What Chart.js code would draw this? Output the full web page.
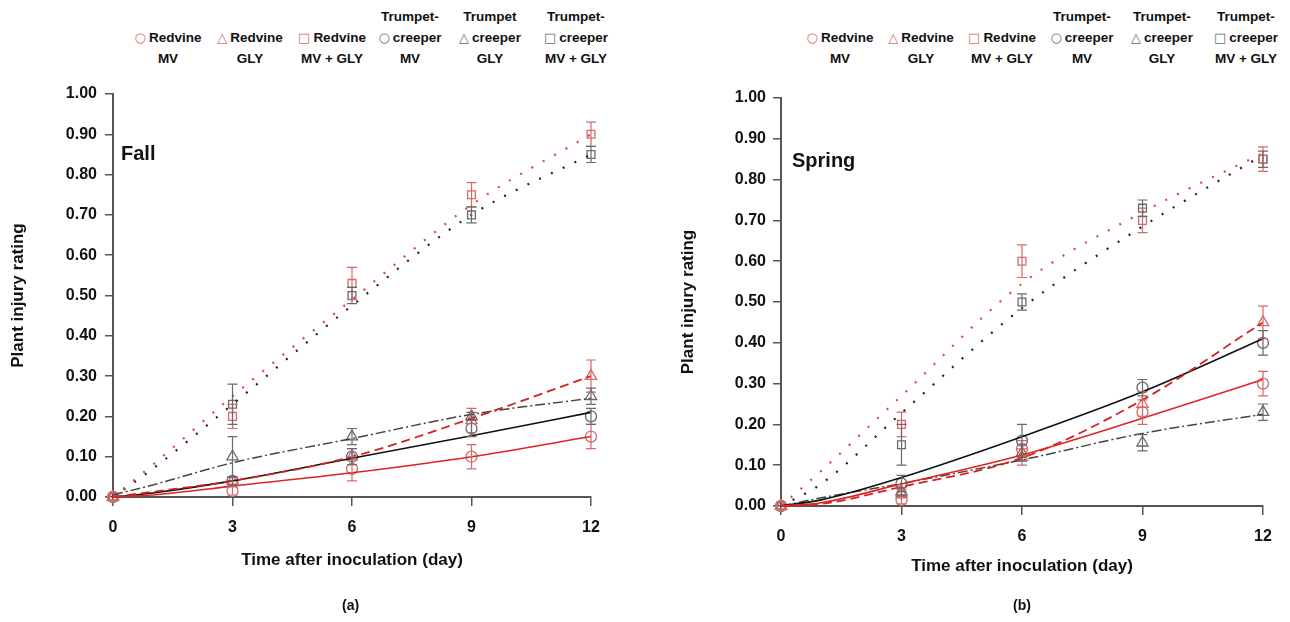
<!DOCTYPE html>
<html>
<head>
<meta charset="utf-8">
<script src="https://cdn.jsdelivr.net/npm/chart.js@4.4.1/dist/chart.umd.min.js"></script>
<style>
  body { margin: 0; background: #fff; font-family: "Liberation Sans", Arial, sans-serif; }
  #wrap { position: relative; width: 1290px; height: 622px; overflow: hidden; }
  canvas { position: absolute; }
  .leg { position: absolute; width: 130px; text-align: center; font-weight: bold; font-size: 13.5px; line-height: 21px; color: #111; }
  .mk { font-family: "DejaVu Sans", sans-serif; font-weight: normal; font-size: 13px; margin-right: 3px; }
  .cap { position: absolute; font-weight: bold; font-size: 14px; color: #111; }
</style>
</head>
<body>
<div id="wrap">
  <canvas id="chartFall" width="650" height="552" style="left:0px;top:70px;width:650px;height:552px"></canvas>
  <canvas id="chartSpring" width="630" height="552" style="left:660px;top:70px;width:630px;height:552px"></canvas>
  <div class="cap" style="left:342px;top:597px">(a)</div>
  <div class="cap" style="left:1013px;top:597px">(b)</div>
</div>
<script>
'use strict'

const days = [0, 3, 6, 9, 12];
const fitDays = [0, 1, 3, 6, 9, 12];
const xTicks = [0, 3, 6, 9, 12];

const fallNames = [['Redvine', 'MV'], ['Redvine', 'GLY'], ['Redvine', 'MV + GLY'],
                   ['Trumpet-', 'creeper', 'MV'], ['Trumpet', 'creeper', 'GLY'], ['Trumpet-', 'creeper', 'MV + GLY']];
const springNames = [['Redvine', 'MV'], ['Redvine', 'GLY'], ['Redvine', 'MV + GLY'],
                     ['Trumpet-', 'creeper', 'MV'], ['Trumpet-', 'creeper', 'GLY'], ['Trumpet-', 'creeper', 'MV + GLY']];

// Fall - observed means and error
const fallRvMv = [0, 0.015, 0.07, 0.10, 0.15];
const fallRvMvErr = [0, 0.01, 0.03, 0.03, 0.03];
const fallRvGly = [0, 0.04, 0.10, 0.19, 0.30];
const fallRvGlyErr = [0, 0.01, 0.02, 0.03, 0.04];
const fallRvMvGly = [0, 0.20, 0.53, 0.75, 0.90];
const fallRvMvGlyErr = [0, 0.03, 0.04, 0.03, 0.03];
const fallTcMv = [0, 0.04, 0.10, 0.17, 0.20];
const fallTcMvErr = [0, 0.01, 0.02, 0.02, 0.02];
const fallTcGly = [0, 0.10, 0.15, 0.20, 0.25];
const fallTcGlyErr = [0, 0.05, 0.02, 0.01, 0.02];
const fallTcMvGly = [0, 0.23, 0.50, 0.70, 0.85];
const fallTcMvGlyErr = [0, 0.05, 0.02, 0.02, 0.02];

// Fall - fitted curves
const fallRvMvFit = [0, 0.005, 0.027, 0.06, 0.10, 0.15];
const fallRvGlyFit = [0, 0.013, 0.04, 0.10, 0.195, 0.30];
const fallRvMvGlyFit = [0, 0.08, 0.25, 0.49, 0.725, 0.90];
const fallTcMvFit = [0, 0.01, 0.04, 0.096, 0.152, 0.21];
const fallTcGlyFit = [0.005, 0.03, 0.085, 0.145, 0.205, 0.245];
const fallTcMvGlyFit = [0, 0.07, 0.23, 0.475, 0.70, 0.85];

// Spring - observed means and error
const springRvMv = [0, 0.015, 0.14, 0.23, 0.30];
const springRvMvErr = [0, 0.01, 0.02, 0.03, 0.03];
const springRvGly = [0, 0.03, 0.12, 0.25, 0.45];
const springRvGlyErr = [0, 0.01, 0.02, 0.03, 0.04];
const springRvMvGly = [0, 0.20, 0.60, 0.70, 0.85];
const springRvMvGlyErr = [0, 0.03, 0.04, 0.03, 0.03];
const springTcMv = [0, 0.055, 0.16, 0.29, 0.40];
const springTcMvErr = [0, 0.02, 0.04, 0.02, 0.03];
const springTcGly = [0, 0.035, 0.13, 0.155, 0.23];
const springTcGlyErr = [0, 0.01, 0.02, 0.02, 0.02];
const springTcMvGly = [0, 0.15, 0.50, 0.73, 0.85];
const springTcMvGlyErr = [0, 0.05, 0.02, 0.02, 0.02];

// Spring - fitted curves
const springRvMvFit = [0, 0.008, 0.054, 0.125, 0.215, 0.31];
const springRvGlyFit = [0, 0.005, 0.047, 0.118, 0.26, 0.45];
const springRvMvGlyFit = [0, 0.086, 0.27, 0.545, 0.72, 0.865];
const springTcMvFit = [0, 0.015, 0.07, 0.17, 0.28, 0.41];
const springTcGlyFit = [0, 0.02, 0.055, 0.113, 0.178, 0.225];
const springTcMvGlyFit = [0, 0.054, 0.228, 0.485, 0.685, 0.86];

const RED_MK = '#d46a6a';
const GRAY_MK = '#6a6a6a';
const shapes = ['circle', 'triangle', 'rect', 'circle', 'triangle', 'rect'];
const mkColors = [RED_MK, RED_MK, RED_MK, GRAY_MK, GRAY_MK, GRAY_MK];
const legendChars = ['○', '△', '□', '○', '△', '□'];

const lineStyles = [
    { color: '#e02424', width: 1.6, dash: [] },
    { color: '#d42222', width: 1.8, dash: [9, 5] },
    { color: '#d84848', width: 2.2, dash: [2, 11] },
    { color: '#111111', width: 1.6, dash: [] },
    { color: '#444444', width: 1.5, dash: [10, 3, 2, 3] },
    { color: '#222222', width: 2.2, dash: [2, 11] }
];

function toXY(xs, ys) {
    return xs.map((x, i) => ({ x: x, y: ys[i] }));
}

function buildDatasets(means, errs, fits) {
    let sets = [];
    fits.forEach((f, i) => {
        sets.push({
            data: toXY(fitDays, f),
            borderColor: lineStyles[i].color,
            borderWidth: lineStyles[i].width,
            borderDash: lineStyles[i].dash,
            pointRadius: 0,
            cubicInterpolationMode: 'monotone',
            fill: false,
            clip: false
        });
    });
    means.forEach((m, i) => {
        sets.push({
            data: toXY(days, m),
            errs: errs[i],
            showLine: false,
            pointStyle: shapes[i],
            pointRadius: shapes[i] === 'triangle' ? 6.5 : 5.5,
            pointBorderColor: mkColors[i],
            pointBackgroundColor: 'rgba(0,0,0,0)',
            pointBorderWidth: 1.3,
            borderColor: mkColors[i],
            clip: false
        });
    });
    return sets;
}

const errorBars = {
    id: 'errorBars',
    afterDatasetsDraw(chart) {
        const ctx = chart.ctx;
        const xs = chart.scales.x, ys = chart.scales.y;
        chart.data.datasets.forEach(ds => {
            if (!ds.errs) return;
            ctx.save();
            ctx.strokeStyle = ds.pointBorderColor;
            ctx.lineWidth = 1.2;
            ds.data.forEach((p, j) => {
                const e = ds.errs[j];
                if (!e) return;
                const px = xs.getPixelForValue(p.x);
                const top = ys.getPixelForValue(p.y + e);
                const bot = ys.getPixelForValue(p.y - e);
                ctx.beginPath();
                ctx.moveTo(px, top); ctx.lineTo(px, bot);
                ctx.moveTo(px - 5, top); ctx.lineTo(px + 5, top);
                ctx.moveTo(px - 5, bot); ctx.lineTo(px + 5, bot);
                ctx.stroke();
            });
            ctx.restore();
        });
    }
};

const panelLabel = {
    id: 'panelLabel',
    afterDraw(chart, args, opts) {
        const ctx = chart.ctx;
        ctx.save();
        ctx.font = 'bold 20px "Liberation Sans", Arial, sans-serif';
        ctx.fillStyle = '#111';
        ctx.textBaseline = 'middle';
        ctx.fillText(opts.text, chart.chartArea.left + opts.dx, chart.chartArea.top + opts.dy);
        ctx.restore();
    }
};

function makeChart(id, datasets, label, lay) {
    const ctx = document.getElementById(id).getContext('2d');
    return new Chart(ctx, {
        type: 'line',
        data: { datasets: datasets },
        options: {
            responsive: false,
            animation: false,
            layout: { padding: { left: 0, top: lay.top, right: lay.right, bottom: lay.bottom } },
            plugins: {
                legend: { display: false },
                tooltip: { enabled: false },
                panelLabel: label
            },
            scales: {
                x: {
                    type: 'linear',
                    min: 0, max: 12,
                    afterBuildTicks: s => { s.ticks = xTicks.map(v => ({ value: v })); },
                    afterFit: s => { s.height = 80; },
                    grid: { display: true, drawOnChartArea: false, tickLength: 9, color: '#555', lineWidth: 1.5 },
                    border: { display: true, color: '#555', width: 2 },
                    ticks: { color: '#111', padding: 12, font: { size: 16, weight: 'bold', family: '"Liberation Sans", Arial' } },
                    title: { display: true, text: 'Time after inoculation (day)', color: '#111',
                             padding: { top: 4, bottom: lay.xTitlePad },
                             font: { size: 17, weight: 'bold', family: '"Liberation Sans", Arial' } }
                },
                y: {
                    min: 0, max: 1,
                    afterFit: s => { s.width = lay.yWidth; },
                    ticks: { stepSize: 0.1, color: '#111', padding: lay.yTickPad,
                             callback: v => v.toFixed(2),
                             font: { size: 16, weight: 'bold', family: '"Liberation Sans", Arial' } },
                    grid: { display: true, drawOnChartArea: false, tickLength: 8, color: '#555', lineWidth: 1.5 },
                    border: { display: true, color: '#555', width: 2 },
                    title: { display: true, text: 'Plant injury rating', color: '#111',
                             padding: { top: lay.yTitlePad, bottom: 4 },
                             font: { size: 17, weight: 'bold', family: '"Liberation Sans", Arial' } }
                }
            }
        },
        plugins: [errorBars, panelLabel]
    });
}

function buildLegend(names, centers) {
    const wrap = document.getElementById('wrap');
    names.forEach((lines, i) => {
        const div = document.createElement('div');
        div.className = 'leg';
        div.style.left = (centers[i] - 65) + 'px';
        div.style.top = (58 - 10.5 - 21 * (lines.length - 1)) + 'px';
        lines.forEach((t, k) => {
            const row = document.createElement('div');
            if (k === lines.length - 2) {
                const mk = document.createElement('span');
                mk.className = 'mk';
                mk.style.color = mkColors[i];
                mk.textContent = legendChars[i];
                row.appendChild(mk);
            }
            row.appendChild(document.createTextNode(t));
            div.appendChild(row);
        });
        wrap.appendChild(div);
    });
}

makeChart('chartFall',
    buildDatasets(
        [fallRvMv, fallRvGly, fallRvMvGly, fallTcMv, fallTcGly, fallTcMvGly],
        [fallRvMvErr, fallRvGlyErr, fallRvMvGlyErr, fallTcMvErr, fallTcGlyErr, fallTcMvGlyErr],
        [fallRvMvFit, fallRvGlyFit, fallRvMvGlyFit, fallTcMvFit, fallTcGlyFit, fallTcMvGlyFit]),
    { text: 'Fall', dx: 8, dy: 60 },
    { top: 24, right: 59, bottom: 45, yWidth: 113, yTickPad: 8, yTitlePad: 8, xTitlePad: 6 });

makeChart('chartSpring',
    buildDatasets(
        [springRvMv, springRvGly, springRvMvGly, springTcMv, springTcGly, springTcMvGly],
        [springRvMvErr, springRvGlyErr, springRvMvGlyErr, springTcMvErr, springTcGlyErr, springTcMvGlyErr],
        [springRvMvFit, springRvGlyFit, springRvMvGlyFit, springTcMvFit, springTcGlyFit, springTcMvGlyFit]),
    { text: 'Spring', dx: 11, dy: 63 },
    { top: 28, right: 27, bottom: 36, yWidth: 121, yTickPad: 7, yTitlePad: 18, xTitlePad: 9 });

buildLegend(fallNames, [168, 250, 332, 410, 490, 576]);
buildLegend(springNames, [840, 921, 1002, 1082, 1162, 1246]);
</script>
</body>
</html>
